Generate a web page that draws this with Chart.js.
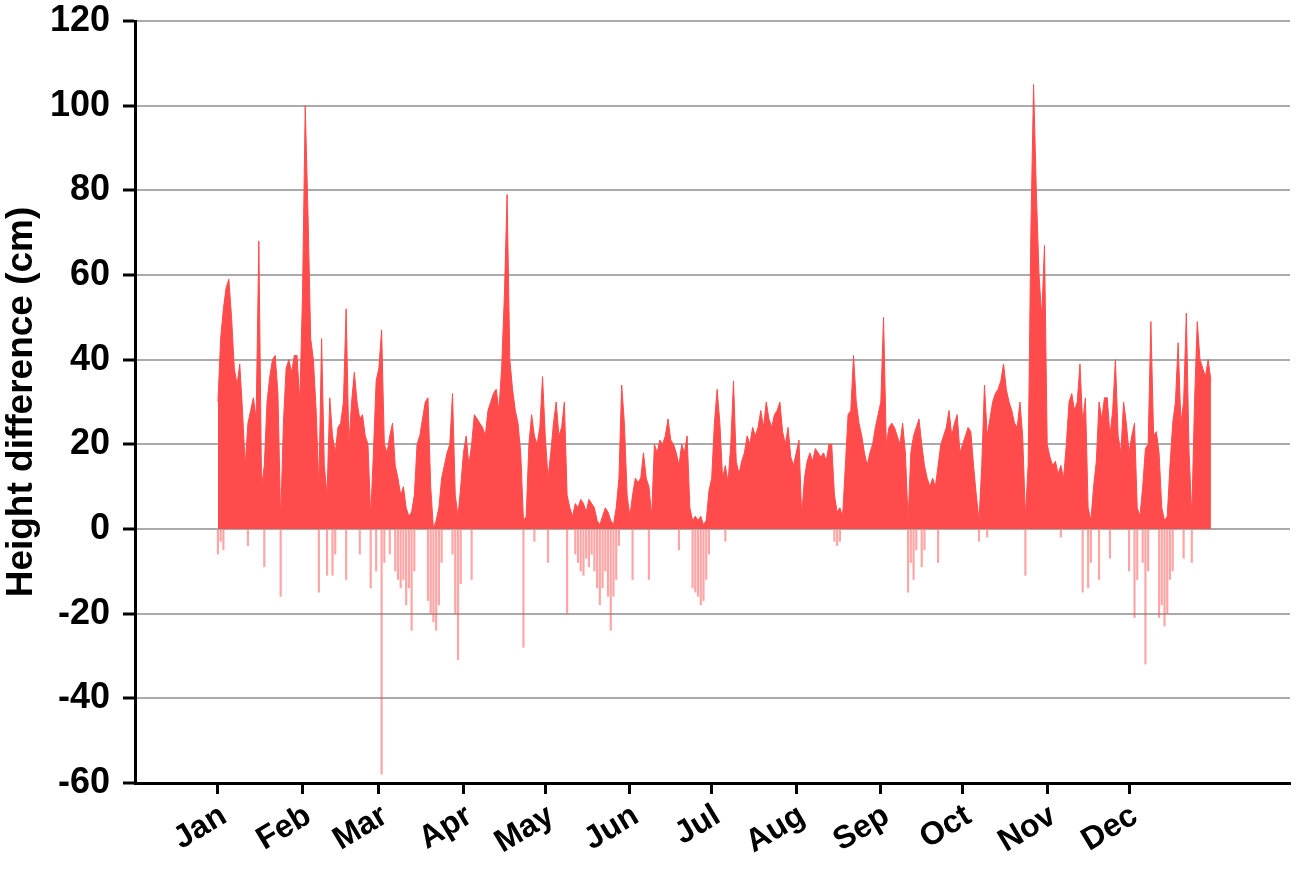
<!DOCTYPE html>
<html>
<head>
<meta charset="utf-8">
<script src="https://cdn.jsdelivr.net/npm/chart.js@4.4.1/dist/chart.umd.min.js"></script>
<style>
  html, body { margin:0; padding:0; background:#fff; }
  #wrap { width:1300px; height:869px; position:relative; }
</style>
</head>
<body>
<div id="wrap"><canvas id="chart"></canvas></div>
<script>
// month ticks (day of year of each month start)
const monthNames = ["Jan","Feb","Mar","Apr","May","Jun","Jul","Aug","Sep","Oct","Nov","Dec"];
const monthStarts = [0,31,59,90,120,151,181,212,243,273,304,334];

// daily positive envelope (cm), one list per month
const hiJan = [30,45,52,57,59,50,38,34,39,28,15,25,28,31,26,68,10,15,30,36,40,41,32,2,25,38,40,37,41,41,30];
const hiFeb = [55,100,75,45,40,28,10,45,15,8,31,22,18,24,25,30,52,20,30,37,30,26,27,22,20,3,18,35];
const hiMar = [38,47,20,18,22,25,15,12,8,10,5,3,4,8,20,22,26,30,31,10,0,2,5,12,15,18,20,32,8,3,10];
const hiApr = [18,22,15,20,27,26,25,24,22,28,30,32,33,28,38,55,79,40,33,28,25,18,2,3,20,27,22,20,24,36];
const hiMay = [22,12,18,25,30,22,24,30,8,5,3,6,5,7,6,4,7,6,5,2,1,3,5,4,2,1,5,12,34,25,8];
const hiJun = [3,8,12,11,12,18,12,10,3,20,18,21,20,22,26,21,20,18,15,20,18,22,5,2,3,2,3,1,2,9];
const hiJul = [12,25,33,25,12,15,11,20,35,16,13,16,18,22,20,24,22,24,28,24,30,26,24,27,28,30,23,20,24,17,15];
const hiAug = [18,21,3,12,16,18,16,19,18,17,18,16,20,20,8,4,5,3,15,27,28,41,30,25,22,18,15,18,20,24,27];
const hiSep = [30,50,20,24,25,24,22,20,25,18,2,18,22,24,26,20,15,12,10,12,10,15,20,22,24,28,22,25,27,18];
const hiOct = [20,22,24,23,15,8,2,15,34,22,26,30,32,33,35,39,33,30,28,25,24,30,22,3,15,70,105,80,60,50,67];
const hiNov = [20,17,15,16,13,15,12,20,30,32,28,30,39,25,31,5,2,10,16,30,26,31,31,22,28,40,22,18,30,25];
const hiDec = [18,22,25,5,3,10,19,20,49,22,23,18,5,2,3,15,25,30,44,25,30,51,18,3,30,49,40,38,36,40,35];

// negative excursions: day of year and value (cm)
const negDays = [0,1,2,11,17,23,37,40,42,43,47,52,56,58,60,61,63,65,66,67,68,69,70,71,72,77,78,79,80,81,82,86,87,88,89,93,
  112,116,121,128,131,132,133,134,135,136,137,138,139,140,141,142,143,144,145,146,147,152,158,169,174,175,176,177,178,179,180,
  186,226,227,228,253,254,255,256,258,259,264,279,282,296,309,317,319,320,323,327,334,336,337,339,340,341,345,346,347,348,349,350,354,357];
const negVals = [-6,-3,-5,-4,-9,-16,-15,-11,-11,-6,-12,-6,-14,-10,-58,-8,-6,-10,-12,-14,-12,-18,-14,-24,-10,-17,-20,-22,-24,-18,-8,-6,-20,-31,-13,-12,
  -28,-3,-8,-20,-6,-8,-10,-11,-7,-9,-6,-10,-14,-18,-14,-10,-16,-24,-16,-12,-4,-12,-12,-5,-14,-15,-16,-18,-17,-12,-6,
  -3,-3,-4,-3,-15,-8,-12,-5,-9,-5,-8,-3,-2,-11,-2,-15,-14,-8,-12,-7,-10,-21,-12,-8,-32,-10,-21,-18,-23,-20,-12,-10,-7,-8];

const yTicks = [-60,-40,-20,0,20,40,60,80,100,120];

const hiAll = [].concat(hiJan,hiFeb,hiMar,hiApr,hiMay,hiJun,hiJul,hiAug,hiSep,hiOct,hiNov,hiDec);
const hiPoints = hiAll.map((v,i)=>({x:i, y:v}));
const negPoints = negDays.map((d,i)=>({x:d, y:negVals[i]}));

const FONT = "'Liberation Sans', Arial, Helvetica, sans-serif";

new Chart(document.getElementById("chart").getContext("2d"), {
  type: 'line',
  data: {
    datasets: [
      {
        label: 'positive',
        data: hiPoints,
        borderColor: '#ff4b4b',
        backgroundColor: '#ff4b4b',
        borderWidth: 1,
        pointRadius: 0,
        tension: 0,
        fill: 'origin'
      },
      {
        type: 'bar',
        label: 'negative',
        data: negPoints,
        backgroundColor: 'rgba(255,75,75,0.5)',
        borderWidth: 0,
        barPercentage: 0.8,
        categoryPercentage: 1
      }
    ]
  },
  options: {
    responsive: true,
    maintainAspectRatio: false,
    animation: false,
    layout: { padding: { top: 21, right: 10, left: 0, bottom: 0 } },
    plugins: { legend: { display: false }, tooltip: { enabled: false } },
    scales: {
      x: {
        type: 'linear',
        offset: false,
        min: -30.4,
        max: 393,
        afterBuildTicks: scale => { scale.ticks = monthStarts.map(v => ({ value: v })); },
        afterFit: scale => { scale.height = 86; scale.paddingLeft = 0; scale.paddingRight = 0; },
        border: { color: '#000', width: 3 },
        grid: { offset: false, drawOnChartArea: false, drawTicks: true, tickLength: 11, tickColor: '#000', tickWidth: 3 },
        ticks: {
          autoSkip: false,
          minRotation: 31,
          maxRotation: 31,
          padding: 3,
          labelOffset: 6,
          color: '#000',
          font: { family: FONT, size: 32, weight: 'bold' },
          callback: v => monthNames[monthStarts.indexOf(v)]
        }
      },
      y: {
        min: -60,
        max: 120,
        afterBuildTicks: scale => { scale.ticks = yTicks.map(v => ({ value: v })); },
        afterFit: scale => { scale.width = 135; scale.paddingTop = 0; scale.paddingBottom = 0; },
        border: { color: '#000', width: 3 },
        grid: { color: '#aaaaaa', lineWidth: 2, drawTicks: true, tickLength: 12, tickColor: '#000', tickWidth: 3 },
        ticks: {
          padding: 13,
          color: '#000',
          font: { family: FONT, size: 36, weight: 'bold' },
          callback: v => String(v)
        },
        title: {
          display: true,
          text: 'Height difference (cm)',
          color: '#000',
          padding: 0,
          font: { family: FONT, size: 37, weight: 'bold' }
        }
      }
    }
  }
});
</script>
</body>
</html>
